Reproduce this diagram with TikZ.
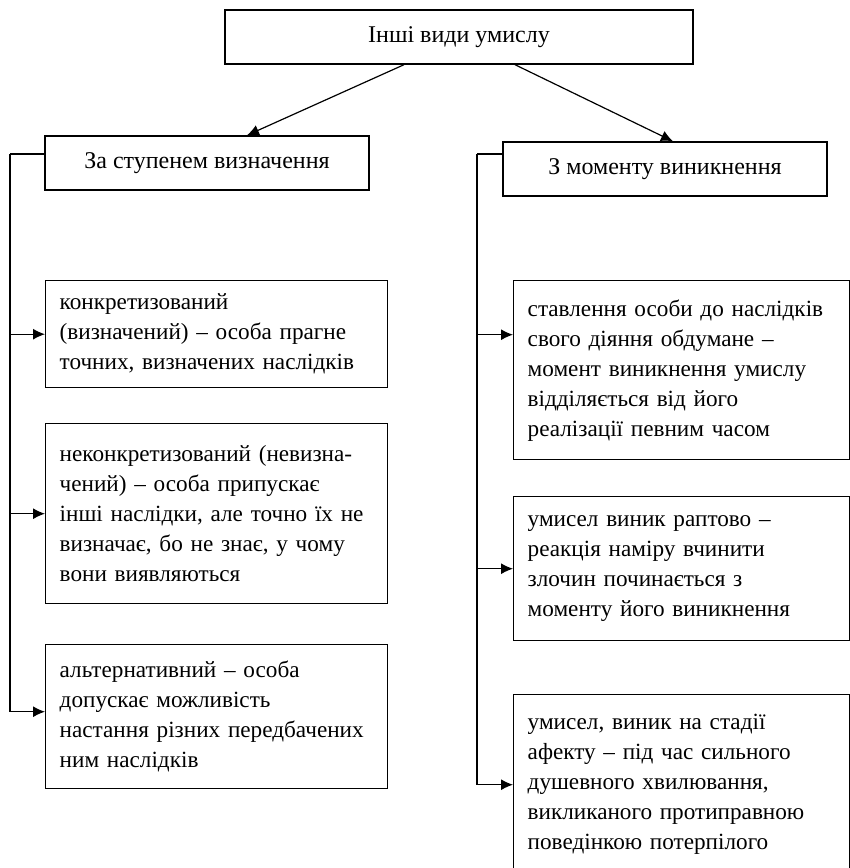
\documentclass[tikz,border=0pt]{standalone}
\usepackage{fontspec}
\setmainfont{Liberation Serif}
\usetikzlibrary{arrows.meta}

\begin{document}
\begin{tikzpicture}[x=0.5pt,y=-0.5pt,
   box/.style={rectangle,draw,line width=0.7pt,anchor=north west,
    inner xsep=7pt,align=left,font=\fontsize{11.6}{15}\selectfont},
   head/.style={rectangle,draw,line width=0.7pt,
    minimum height=27pt,font=\fontsize{12}{15}\selectfont},
   link/.style={line width=0.6pt,-{Latex[length=6pt,width=5.5pt]}}
    ]
    \clip (0,0) rectangle (850,868);

    % Headings:
    \node[head,minimum width=234pt] at (459,37) (top) {Інші види умислу};
    \node[head,minimum width=162pt] at (207,163) (lh) {За ступенем визначення};
    \node[head,minimum width=162pt] at (665,169) (rh) {З моменту виникнення};

    % Left column:
    \node[box,text width=157pt,minimum height=53.5pt] at (45,280) (l1)
      {конкретизований\\(визначений) – особа прагне\\точних, визначених наслідків};
    \node[box,text width=157pt,minimum height=90pt] at (45,423) (l2)
      {неконкретизований (невизна-\\чений) – особа припускає\\інші наслідки, але точно їх не\\визначає, бо не знає, у чому\\вони виявляються};
    \node[box,text width=157pt,minimum height=72pt] at (45,644) (l3)
      {альтернативний – особа\\допускає можливість\\настання різних передбачених\\ним наслідків};

    % Right column:
    \node[box,text width=154pt,minimum height=89.5pt] at (513,280) (r1)
      {ставлення особи до наслідків\\свого діяння обдумане –\\момент виникнення умислу\\відділяється від його\\реалізації певним часом};
    \node[box,text width=154pt,minimum height=72pt] at (513,496) (r2)
      {умисел виник раптово –\\реакція наміру вчинити\\злочин починається з\\моменту його виникнення};
    \node[box,text width=154pt,minimum height=90pt] at (513,694) (r3)
      {умисел, виник на стадії\\афекту – під час сильного\\душевного хвилювання,\\викликаного протиправною\\поведінкою потерпілого};

    % arrows from the top box
    \draw[link] ([xshift=-27.5pt]top.south) -- ([xshift=20pt]lh.north);
    \draw[link] ([xshift=28pt]top.south) -- ([xshift=4pt]rh.north);

    % left branch
    \coordinate (lt) at (10,154);
    \draw[line width=0.6pt] (lt) -- (lh.west |- lt);
    \draw[link] (lt) |- (l1.west);
    \draw[link] (lt) |- (l2.west);
    \draw[link] (lt) |- ([yshift=2.5pt]l3.west);

    % right branch
    \coordinate (rt) at (477,154);
    \draw[line width=0.6pt] (rt) -- (rh.west |- rt);
    \draw[link] (rt) |- ([yshift=17.75pt]r1.west);
    \draw[link] (rt) |- (r2.west);
    \draw[link] (rt) |- (r3.west);

\end{tikzpicture}
\end{document}
